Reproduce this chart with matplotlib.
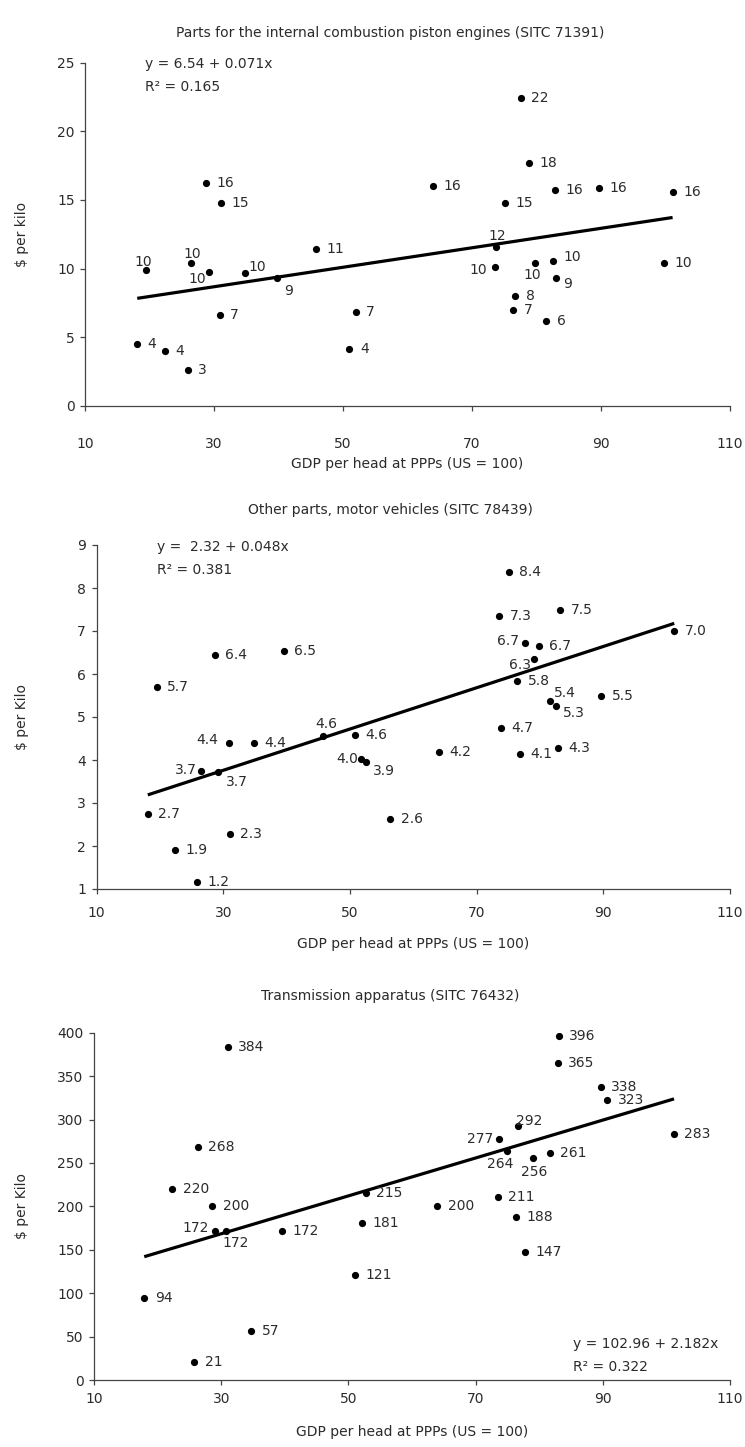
import matplotlib
matplotlib.use("Agg")
import matplotlib.pyplot as plt
import numpy as np

plt.rcParams['font.family'] = ['DejaVu Sans']

# ---------------- data ----------------
# Panel 1: Parts for the internal combustion piston engines (SITC 71391)
p1_title = "Parts for the internal combustion piston engines (SITC 71391)"
p1_x = [18.1, 19.4, 22.4, 25.9, 26.4, 28.7, 29.2, 30.9, 31.1, 34.8, 39.7, 45.8, 51.0, 52.0,
        63.9, 75.1, 73.5, 73.7, 77.6, 78.9, 76.7, 76.4, 79.7, 82.5, 83.0, 81.5, 82.8, 89.7,
        101.1, 99.8]
p1_y = [4.5, 9.9, 4.0, 2.6, 10.4, 16.2, 9.75, 6.6, 14.8, 9.7, 9.3, 11.4, 4.15, 6.8,
        16.0, 14.75, 10.1, 11.6, 22.45, 17.7, 7.97, 7.0, 10.42, 10.52, 9.3, 6.2, 15.7, 15.87,
        15.55, 10.38]
p1_labels = ["4", "10", "4", "3", "10", "16", "10", "7", "15", "10", "9", "11", "4", "7",
             "16", "15", "10", "12", "22", "18", "8", "7", "10", "10", "9", "6", "16", "16",
             "16", "10"]
p1_fit = (6.54, 0.071)
p1_eq = ["y = 6.54 + 0.071x", "R² = 0.165"]
p1_ylabel = "$ per kilo"

# Panel 2: Other parts, motor vehicles (SITC 78439)
p2_title = "Other parts, motor vehicles (SITC 78439)"
p2_x = [28.7, 39.6, 19.5, 30.9, 34.8, 45.7, 50.8, 51.8, 52.5, 26.5, 29.2, 18.1, 31.0, 22.4,
        25.9, 56.4,
        75.1, 73.6, 83.2, 101.2, 77.7, 79.8, 79.1, 76.4, 81.6, 82.6, 89.7, 73.8, 64.1, 76.8,
        82.9]
p2_y = [6.44, 6.53, 5.70, 4.40, 4.40, 4.56, 4.57, 4.02, 3.95, 3.74, 3.72, 2.74, 2.29, 1.91,
        1.17, 2.63,
        8.38, 7.35, 7.50, 6.99, 6.71, 6.66, 6.34, 5.84, 5.37, 5.25, 5.50, 4.75, 4.19, 4.13,
        4.29]
p2_labels = ["6.4", "6.5", "5.7", "4.4", "4.4", "4.6", "4.6", "4.0", "3.9", "3.7", "3.7",
             "2.7", "2.3", "1.9", "1.2", "2.6",
             "8.4", "7.3", "7.5", "7.0", "6.7", "6.7", "6.3", "5.8", "5.4", "5.3", "5.5",
             "4.7", "4.2", "4.1", "4.3"]
p2_fit = (2.32, 0.048)
p2_eq = ["y =  2.32 + 0.048x", "R² = 0.381"]
p2_ylabel = "$ per Kilo"

# Panel 3: Transmission apparatus (SITC 76432)
p3_title = "Transmission apparatus (SITC 76432)"
p3_x = [31.0, 26.3, 22.3, 28.6, 29.1, 30.8, 39.6, 52.7, 52.1, 51.0, 17.9, 34.7, 25.8,
        83.1, 82.9, 89.7, 90.7, 76.7, 73.7, 75.0, 79.0, 81.7, 101.2, 64.0, 73.5, 76.4, 77.7]
p3_y = [384, 268, 220, 200, 172, 172, 172, 215, 181, 121, 94, 57, 21,
        396, 365, 338, 323, 292, 277, 264, 256, 261, 283, 200, 211, 188, 147]
p3_labels = [str(v) for v in p3_y]
p3_fit = (102.96, 2.182)
p3_eq = ["y = 102.96 + 2.182x", "R² = 0.322"]
p3_ylabel = "$ per Kilo"

x_ticks = [10, 30, 50, 70, 90, 110]
x_label = "GDP per head at PPPs (US = 100)"

# ---------------- layout ----------------
W, H = 745, 1447
TXT = '#2b2b2b'
FS = 10

# special label offsets (points, text centre relative to dot); others go to the right
p1_off = {1: (-1.5, 6), 4: (0.7, 6.2), 6: (-8.4, -4.8), 9: (9.1, 4.3), 10: (8.4, -9.4),
          16: (-12, -2.4), 17: (0.7, 7.9), 22: (-1.7, -8.9), 23: (14.2, 3.4), 24: (8.6, -4.6)}
p2_off = {3: (-15.8, 1.7), 5: (2.4, 8.4), 7: (-9.8, 0), 8: (13.2, -6.7), 9: (-10.8, 0.7),
          10: (13.2, -7), 20: (-12.5, 1.7), 22: (-10.6, -3.8), 24: (11, 6), 25: (12.7, -4.6)}
p3_off = {4: (-14.4, 2.2), 5: (6.5, -8.6), 17: (8, 3.8), 18: (-13.4, 0.7), 19: (-5.5, -9.6),
          20: (1.2, -10)}

panels = [
    dict(rect=(85, 62.7, 730, 405.7), x=p1_x, y=p1_y, lab=p1_labels, fit=p1_fit, eq=p1_eq,
         eqpos=(145, 64, 87.3), ylim=(0, 25), yt=np.arange(0, 26, 5), off=p1_off,
         title=p1_title, ty=33, ylabel=p1_ylabel, xlab_y=464, pad=19, ylx=22),
    dict(rect=(96.5, 545, 730, 889), x=p2_x, y=p2_y, lab=p2_labels, fit=p2_fit, eq=p2_eq,
         eqpos=(157, 547.3, 570), ylim=(1, 9), yt=np.arange(1, 10, 1), off=p2_off,
         title=p2_title, ty=510, ylabel=p2_ylabel, xlab_y=944, pad=9, ylx=22),
    dict(rect=(94, 1032.7, 730, 1380), x=p3_x, y=p3_y, lab=p3_labels, fit=p3_fit, eq=p3_eq,
         eqpos=(573, 1344, 1366.7), ylim=(0, 400), yt=np.arange(0, 401, 50), off=p3_off,
         title=p3_title, ty=996, ylabel=p3_ylabel, xlab_y=1432, pad=5, ylx=22),
]

fig = plt.figure(figsize=(W / 100, H / 100), dpi=100)

for p in panels:
    l, t, r, b = p['rect']
    ax = fig.add_axes([l / W, 1 - b / H, (r - l) / W, (b - t) / H])
    ax.set_xlim(10, 110)
    ax.set_ylim(*p['ylim'])
    ax.set_xticks(x_ticks)
    ax.set_yticks(p['yt'])
    for s in ['top', 'right']:
        ax.spines[s].set_visible(False)
    for s in ['left', 'bottom']:
        ax.spines[s].set_color('#444444')
        ax.spines[s].set_linewidth(0.9)
    ax.tick_params(axis='both', direction='out', length=3.5, width=0.9, color='#444444',
                   labelsize=FS, labelcolor=TXT)
    ax.tick_params(axis='x', pad=p['pad'])
    ax.tick_params(axis='y', pad=4)
    ax.patch.set_alpha(0)

    xs = np.array(p['x'])
    ys = np.array(p['y'])
    a, bslope = p['fit']
    xl = np.array([xs.min(), xs.max()])
    ax.plot(xl, a + bslope * xl, color='black', lw=2.3, solid_capstyle='butt', zorder=2)
    ax.scatter(xs, ys, s=27, color='black', zorder=3, linewidths=0)

    for i, (xx, yy, lab) in enumerate(zip(xs, ys, p['lab'])):
        if i in p['off']:
            dx, dy = p['off'][i]
            ax.annotate(lab, (xx, yy), xytext=(dx, dy), textcoords='offset points',
                        ha='center', va='center', fontsize=FS, color=TXT, zorder=4)
        else:
            ax.annotate(lab, (xx, yy), xytext=(7.5, 0), textcoords='offset points',
                        ha='left', va='center', fontsize=FS, color=TXT, zorder=4)

    ex, ey1, ey2 = p['eqpos']
    fig.text(ex / W, 1 - ey1 / H, p['eq'][0], ha='left', va='center', fontsize=FS, color=TXT)
    fig.text(ex / W, 1 - ey2 / H, p['eq'][1], ha='left', va='center', fontsize=FS, color=TXT)

    fig.text(390 / W, 1 - p['ty'] / H, p['title'], ha='center', va='center', fontsize=FS,
             color=TXT)
    fig.text((l + r) / 2 / W, 1 - p['xlab_y'] / H, x_label, ha='center', va='center',
             fontsize=FS, color=TXT)
    fig.text(p['ylx'] / W, 1 - (t + b) / 2 / H, p['ylabel'], ha='center', va='center',
             rotation=90, fontsize=FS, color=TXT)

fig.savefig('out.png', dpi=100)
